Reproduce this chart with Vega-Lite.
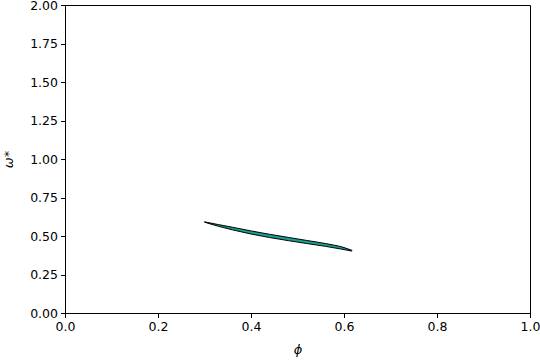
{
  "$schema": "https://vega.github.io/schema/vega-lite/v6.json",
  "autosize": "none",
  "width": 465,
  "height": 308,
  "padding": {"left": 65, "top": 5, "right": 10, "bottom": 47},
  "background": "white",
  "config": {
    "font": "DejaVu Sans",
    "view": {"stroke": "black", "strokeWidth": 1},
    "axis": {
      "grid": false,
      "domainColor": "black",
      "tickColor": "black",
      "tickSize": 4.5,
      "labelFontSize": 12.5,
      "labelColor": "black",
      "titleFontSize": 13,
      "titleColor": "black",
      "titleFontWeight": "normal",
      "labelPadding": 3
    }
  },
  "data": {
    "values": [
      {"phi": 0.30, "lo": 0.590, "hi": 0.592},
      {"phi": 0.33, "lo": 0.563, "hi": 0.574},
      {"phi": 0.36, "lo": 0.540, "hi": 0.557},
      {"phi": 0.40, "lo": 0.513, "hi": 0.533},
      {"phi": 0.44, "lo": 0.490, "hi": 0.511},
      {"phi": 0.48, "lo": 0.470, "hi": 0.491},
      {"phi": 0.52, "lo": 0.451, "hi": 0.471},
      {"phi": 0.56, "lo": 0.433, "hi": 0.451},
      {"phi": 0.60, "lo": 0.412, "hi": 0.425},
      {"phi": 0.617, "lo": 0.402, "hi": 0.407}
    ]
  },
  "mark": {"type": "area", "color": "#17a08e", "stroke": "black", "strokeWidth": 1, "interpolate": "monotone", "opacity": 1},
  "encoding": {
    "x": {
      "field": "phi", "type": "quantitative",
      "scale": {"domain": [0, 1], "nice": false, "zero": false},
      "axis": {"values": [0, 0.2, 0.4, 0.6, 0.8, 1.0], "format": ".1f", "title": "ϕ", "titleFontStyle": "italic", "titlePadding": 10, "labelFlush": false}
    },
    "y": {
      "field": "lo", "type": "quantitative",
      "scale": {"domain": [0, 2], "nice": false, "zero": false},
      "axis": {"values": [0, 0.25, 0.5, 0.75, 1.0, 1.25, 1.5, 1.75, 2.0], "format": ".2f", "title": "ω*", "titleFontStyle": "italic", "titlePadding": 14, "labelFlush": false}
    },
    "y2": {"field": "hi"}
  }
}
